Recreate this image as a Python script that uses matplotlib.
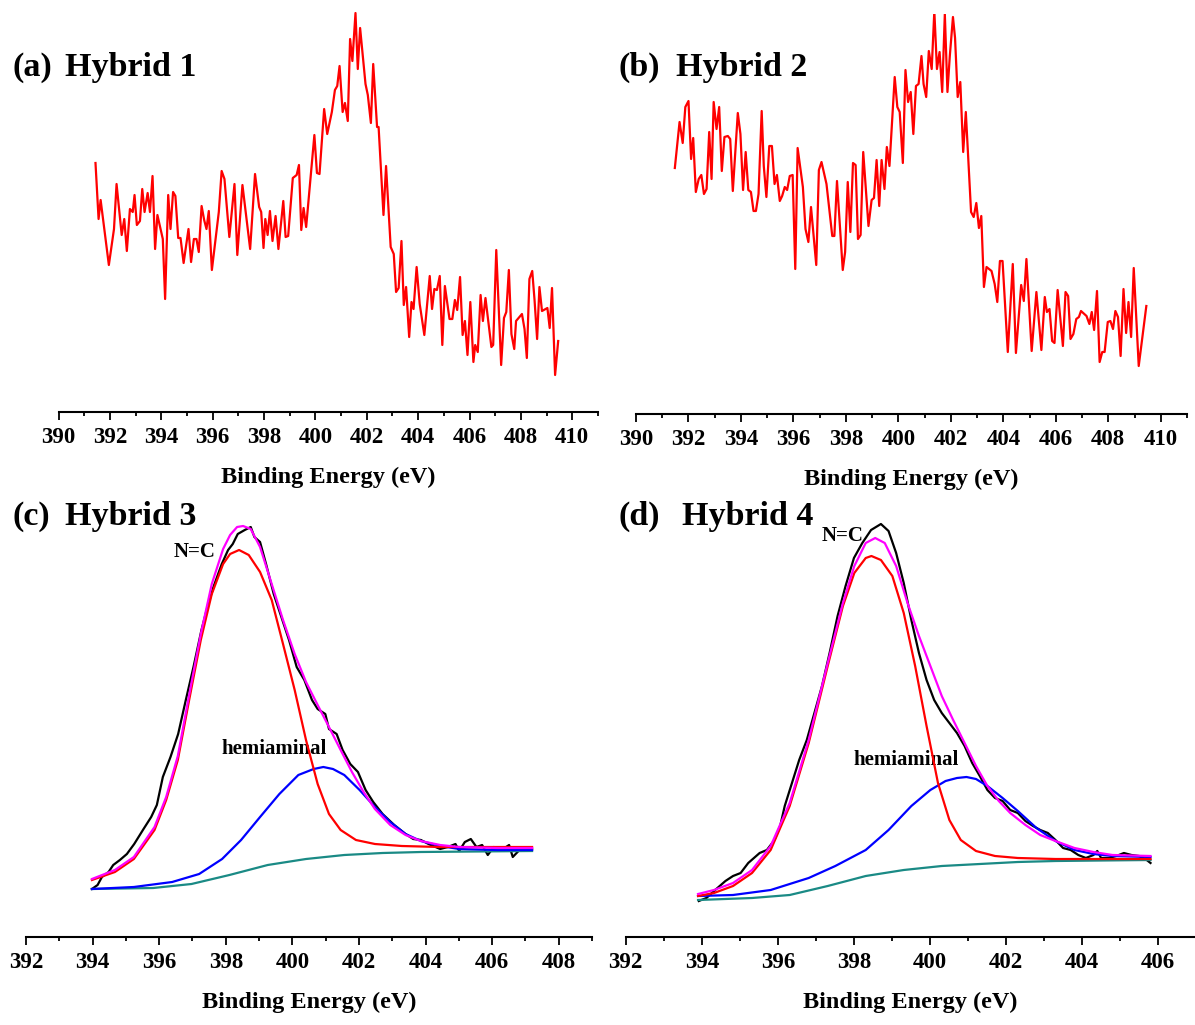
import matplotlib
matplotlib.use("Agg")
import matplotlib.pyplot as plt
from matplotlib.ticker import MultipleLocator

plt.rcParams['font.family'] = ['Liberation Serif', 'DejaVu Serif']
plt.rcParams['font.weight'] = 'bold'

# ---------------- data ----------------
# Panel (a) Hybrid 1 : N 1s survey (binding energy eV, intensity a.u.)
h1_be = [391.44, 391.56, 391.64, 391.96, 392.16, 392.26, 392.46, 392.56, 392.66, 392.78,
         392.89, 392.96, 393.05, 393.17, 393.26, 393.35, 393.47, 393.56, 393.66, 393.76,
         393.85, 393.97, 394.06, 394.15, 394.27, 394.36, 394.46, 394.55, 394.66, 394.75,
         394.87, 395.06, 395.16, 395.27, 395.37, 395.46, 395.57, 395.67, 395.76, 395.85,
         395.97, 396.24, 396.35, 396.46, 396.65, 396.85, 396.96, 397.16, 397.46, 397.65,
         397.81, 397.89, 397.98, 398.05, 398.14, 398.23, 398.33, 398.45, 398.56, 398.75,
         398.84, 398.94, 399.12, 399.27, 399.36, 399.45, 399.54, 399.64, 399.96, 400.06,
         400.16, 400.34, 400.46, 400.64, 400.76, 400.85, 400.94, 401.06, 401.15, 401.26,
         401.35, 401.44, 401.56, 401.65, 401.74, 401.95, 402.04, 402.16, 402.25, 402.40,
         402.46, 402.65, 402.75, 402.93, 403.05, 403.14, 403.24, 403.35, 403.44, 403.53,
         403.65, 403.74, 403.82, 403.94, 404.06, 404.24, 404.45, 404.54, 404.63, 404.73,
         404.84, 404.94, 405.04, 405.22, 405.33, 405.43, 405.52, 405.63, 405.73, 405.82,
         405.92, 406.03, 406.15, 406.22, 406.32, 406.43, 406.52, 406.62, 406.85, 406.92,
         407.04, 407.23, 407.34, 407.43, 407.53, 407.63, 407.74, 407.81, 408.04, 408.14,
         408.23, 408.33, 408.44, 408.53, 408.63, 408.72, 408.82, 409.03, 409.12, 409.21,
         409.33, 409.45]
h1_int = [249, 193, 212, 147, 183, 228, 177, 193, 161, 203,
          200, 217, 187, 191, 223, 200, 219, 200, 236, 163,
          197, 183, 173, 113, 217, 183, 220, 216, 174, 174,
          149, 183, 150, 173, 173, 160, 206, 192, 183, 201,
          142, 200, 241, 233, 175, 228, 157, 227, 163, 238,
          205, 200, 164, 193, 177, 201, 171, 196, 163, 211,
          175, 176, 234, 237, 247, 182, 204, 185, 277, 239,
          238, 303, 278, 300, 322, 326, 346, 300, 309, 291,
          373, 351, 399, 343, 384, 328, 317, 289, 348, 285,
          285, 197, 246, 165, 158, 120, 124, 171, 107, 125,
          75, 110, 103, 145, 108, 77, 136, 103, 123, 122,
          136, 67, 126, 93, 93, 112, 102, 135, 77, 91,
          57, 110, 50, 67, 60, 117, 91, 114, 65, 67,
          162, 47, 94, 100, 142, 78, 63, 91, 98, 83,
          54, 133, 141, 112, 73, 125, 101, 104, 84, 124,
          37, 71]

# Panel (b) Hybrid 2
h2_be = [391.48, 391.66, 391.78, 391.88, 392.00, 392.10, 392.18, 392.28, 392.39, 392.49,
         392.59, 392.69, 392.79, 392.88, 392.96, 393.07, 393.17, 393.27, 393.37, 393.50,
         393.59, 393.69, 393.88, 393.98, 394.08, 394.18, 394.28, 394.38, 394.48, 394.57,
         394.67, 394.79, 394.87, 394.97, 395.08, 395.18, 395.28, 395.37, 395.48, 395.57,
         395.67, 395.76, 395.86, 395.97, 396.07, 396.16, 396.36, 396.46, 396.57, 396.67,
         396.87, 396.97, 397.07, 397.26, 397.48, 397.56, 397.66, 397.88, 397.97, 398.07,
         398.17, 398.27, 398.37, 398.46, 398.56, 398.66, 398.86, 398.98, 399.07, 399.17,
         399.27, 399.36, 399.47, 399.56, 399.66, 399.86, 399.96, 400.05, 400.17, 400.27,
         400.37, 400.47, 400.57, 400.67, 400.77, 400.88, 400.96, 401.06, 401.16, 401.27,
         401.37, 401.47, 401.57, 401.67, 401.77, 401.87, 401.96, 402.08, 402.16, 402.26,
         402.36, 402.47, 402.57, 402.77, 402.87, 402.97, 403.07, 403.16, 403.26, 403.36,
         403.55, 403.67, 403.77, 403.87, 403.97, 404.17, 404.36, 404.48, 404.68, 404.78,
         404.88, 405.08, 405.26, 405.45, 405.58, 405.66, 405.76, 405.86, 405.95, 406.07,
         406.27, 406.37, 406.47, 406.56, 406.67, 406.78, 406.88, 406.96, 407.17, 407.28,
         407.37, 407.46, 407.57, 407.67, 407.77, 407.86, 407.98, 408.08, 408.18, 408.27,
         408.37, 408.47, 408.58, 408.68, 408.77, 408.87, 408.97, 409.16, 409.28, 409.45]
h2_int = [246, 292, 271, 307, 313, 255, 276, 222, 235, 239,
          220, 225, 282, 235, 312, 285, 307, 243, 277, 278,
          275, 223, 301, 280, 224, 262, 224, 222, 203, 203,
          220, 303, 248, 217, 268, 268, 230, 239, 213, 218,
          227, 224, 238, 239, 145, 266, 227, 185, 172, 207,
          149, 244, 252, 230, 178, 178, 233, 144, 162, 232,
          182, 251, 249, 175, 179, 262, 188, 214, 216, 254,
          208, 254, 225, 267, 248, 337, 307, 302, 251, 344,
          312, 322, 280, 328, 330, 358, 330, 317, 363, 345,
          403, 345, 362, 322, 400, 322, 358, 397, 376, 317,
          332, 262, 302, 202, 197, 211, 186, 198, 127, 147,
          143, 130, 112, 153, 153, 62, 150, 61, 129, 113,
          155, 63, 122, 64, 117, 102, 105, 73, 71, 124,
          68, 122, 118, 75, 80, 95, 97, 103, 98, 90,
          102, 84, 123, 52, 62, 62, 92, 93, 85, 103,
          97, 58, 125, 81, 112, 77, 146, 48, 73, 108]

# Panel (c) Hybrid 3 : measured + fitted components
h3_raw_be = [393.98, 394.15, 394.28, 394.48, 394.62, 394.82, 395.03, 395.25, 395.53, 395.76,
             395.93, 396.11, 396.34, 396.57, 396.80, 397.03, 397.27, 397.45, 397.63, 397.88,
             398.07, 398.21, 398.36, 398.57, 398.75, 398.86, 399.03, 399.21, 399.44, 399.67,
             399.90, 400.13, 400.36, 400.59, 400.76, 400.99, 401.10, 401.33, 401.51, 401.74,
             401.97, 402.20, 402.43, 402.71, 403.06, 403.40, 403.63, 403.86, 404.09, 404.44,
             404.67, 404.90, 405.01, 405.18, 405.36, 405.53, 405.70, 405.87, 406.05, 406.28,
             406.51, 406.62, 406.85, 407.20]
h3_raw = [48, 52, 60, 65, 72, 77, 83, 93, 108, 120,
          132, 160, 180, 203, 237, 270, 307, 330, 350, 373,
          387, 393, 403, 407, 410, 400, 395, 373, 343, 320,
          297, 270, 257, 237, 228, 223, 208, 203, 187, 173,
          165, 147, 135, 123, 112, 103, 98, 97, 93, 88,
          90, 93, 86, 95, 98, 90, 92, 82, 90, 87,
          92, 80, 88, 88]
h3_nc_be = [393.98, 394.67, 395.24, 395.86, 396.21, 396.56, 396.90, 397.25, 397.58, 397.92,
            398.13, 398.40, 398.69, 399.03, 399.38, 399.72, 400.07, 400.41, 400.76, 401.10,
            401.45, 401.91, 402.48, 403.29, 404.44, 407.20]
h3_nc = [57, 65, 78, 107, 137, 177, 237, 297, 343, 373,
         383, 387, 382, 365, 337, 293, 247, 197, 153, 123,
         107, 97, 93, 91, 90, 90]
h3_hemi_be = [393.98, 395.24, 396.39, 397.20, 397.89, 398.46, 399.03, 399.61, 400.18, 400.64,
              400.93, 401.22, 401.56, 402.02, 402.48, 402.94, 403.40, 403.86, 404.44, 405.01,
              406.16, 407.20]
h3_hemi = [48, 50, 55, 63, 78, 97, 120, 143, 162, 168,
           170, 168, 162, 147, 130, 115, 103, 96, 91, 88,
           87, 87]
h3_env_be = [393.98, 394.67, 395.24, 395.86, 396.21, 396.56, 396.90, 397.25, 397.58, 397.92,
             398.13, 398.34, 398.52, 398.75, 399.03, 399.38, 399.72, 400.07, 400.41, 400.76,
             401.10, 401.45, 401.79, 402.14, 402.48, 402.94, 403.40, 403.86, 404.44, 405.01,
             406.16, 407.20]
h3_env = [58, 67, 80, 110, 140, 181, 242, 303, 353, 388,
          402, 410, 411, 408, 390, 353, 317, 283, 255, 232,
          210, 187, 165, 145, 128, 112, 102, 96, 92, 90,
          89, 89]
h3_bg_be = [393.98, 395.82, 396.97, 398.11, 399.26, 400.41, 401.56, 402.71, 403.86, 407.20]
h3_bg = [48, 49, 53, 62, 72, 78, 82, 84, 85, 86]

# Panel (d) Hybrid 4
h4_raw_be = [393.92, 394.12, 394.32, 394.47, 394.62, 394.82, 395.02, 395.22, 395.37, 395.52,
             395.71, 395.91, 396.06, 396.18, 396.37, 396.56, 396.76, 396.96, 397.16, 397.36,
             397.57, 397.78, 398.00, 398.22, 398.45, 398.71, 398.91, 399.11, 399.31, 399.51,
             399.71, 399.91, 400.11, 400.31, 400.51, 400.71, 400.91, 401.11, 401.31, 401.51,
             401.71, 401.91, 402.11, 402.31, 402.51, 402.71, 402.90, 403.10, 403.30, 403.50,
             403.70, 403.90, 404.10, 404.30, 404.40, 404.50, 404.70, 404.90, 405.10, 405.30,
             405.50, 405.70, 405.80]
h4_raw = [36, 39, 46, 51, 56, 61, 64, 74, 79, 84,
          87, 97, 111, 131, 154, 177, 197, 224, 251, 284,
          321, 351, 379, 394, 407, 413, 406, 384, 354, 317,
          284, 257, 237, 224, 214, 204, 191, 174, 161, 147,
          139, 136, 127, 124, 116, 111, 107, 104, 97, 89,
          87, 82, 79, 82, 86, 79, 79, 81, 84, 82,
          81, 77, 74]
h4_nc_be = [393.90, 394.32, 394.82, 395.32, 395.81, 396.31, 396.81, 397.31, 397.71, 398.01,
            398.31, 398.46, 398.71, 399.01, 399.31, 399.61, 399.91, 400.21, 400.51, 400.81,
            401.21, 401.71, 402.31, 403.30, 405.80]
h4_nc = [41, 44, 51, 64, 87, 131, 194, 271, 331, 364,
         379, 381, 377, 361, 324, 271, 211, 154, 117, 97,
         86, 81, 79, 78, 78]
h4_hemi_be = [393.90, 394.82, 395.81, 396.81, 397.51, 398.31, 398.91, 399.51, 400.01, 400.41,
              400.71, 400.96, 401.21, 401.51, 401.91, 402.31, 402.80, 403.30, 403.80, 404.30,
              404.80, 405.80]
h4_hemi = [41, 42, 47, 59, 71, 87, 107, 131, 147, 156,
           159, 160, 158, 151, 139, 126, 109, 96, 87, 83,
           81, 80]
h4_env_be = [393.90, 394.32, 394.82, 395.32, 395.81, 396.31, 396.81, 397.31, 397.71, 398.01,
             398.31, 398.56, 398.81, 399.11, 399.41, 399.71, 400.01, 400.31, 400.61, 400.91,
             401.21, 401.51, 401.81, 402.11, 402.51, 402.90, 403.30, 403.80, 404.30, 404.80,
             405.80]
h4_env = [43, 47, 54, 67, 91, 134, 197, 274, 334, 371,
          394, 399, 394, 371, 334, 301, 271, 241, 217, 194,
          171, 151, 136, 124, 112, 102, 96, 89, 85, 82,
          81]
h4_bg_be = [393.90, 395.32, 396.31, 397.31, 398.31, 399.31, 400.31, 401.31, 402.31, 403.30, 405.80]
h4_bg = [37, 39, 42, 51, 61, 67, 71, 73, 75, 76, 77]

panel_tags = ["(a)", "(b)", "(c)", "(d)"]
panel_names = ["Hybrid 1", "Hybrid 2", "Hybrid 3", "Hybrid 4"]
xlabel = "Binding Energy (eV)"

# ---------------- figure ----------------
W, H = 1195, 1025
fig = plt.figure(figsize=(W / 100, H / 100), dpi=100)


def make_axes(left, right, bottom_y, height, xlim, ylim):
    ax = fig.add_axes([left / W, (H - bottom_y) / H, (right - left) / W, height / H])
    ax.set_xlim(*xlim)
    ax.set_ylim(*ylim)
    for s in ("left", "right", "top"):
        ax.spines[s].set_visible(False)
    ax.spines["bottom"].set_linewidth(1.5)
    ax.yaxis.set_visible(False)
    ax.xaxis.set_major_locator(MultipleLocator(2))
    ax.xaxis.set_minor_locator(MultipleLocator(1))
    ax.tick_params(axis="x", which="major", direction="out", length=5.5, width=1.3,
                   labelsize=16.5, pad=5.5)
    ax.tick_params(axis="x", which="minor", direction="out", length=3, width=1.3)
    for lab in ax.get_xticklabels():
        lab.set_fontweight("bold")
    ax.set_xlabel(xlabel, fontsize=17.5, fontweight="bold", labelpad=13)
    ax.patch.set_alpha(0)
    return ax


ax_a = make_axes(58.5, 598, 412, 400, (390, 411), (0, 400))
ax_b = make_axes(636, 1187, 414, 400, (390, 411), (0, 400))
ax_c = make_axes(26, 592, 937, 420, (392, 409), (0, 420))
ax_d = make_axes(625.8, 1195, 937, 420, (392, 406.97), (0, 420))

red = "#ff0000"
blue = "#0000ff"
mag = "#ff00ff"
teal = "#1a8a85"

ax_a.plot(h1_be, h1_int, color=red, lw=1.6)
ax_b.plot(h2_be, h2_int, color=red, lw=1.6)

for ax, rb, r, nb, n, hb, hm, eb, e, bb, bg in [
        (ax_c, h3_raw_be, h3_raw, h3_nc_be, h3_nc, h3_hemi_be, h3_hemi, h3_env_be, h3_env, h3_bg_be, h3_bg),
        (ax_d, h4_raw_be, h4_raw, h4_nc_be, h4_nc, h4_hemi_be, h4_hemi, h4_env_be, h4_env, h4_bg_be, h4_bg)]:
    ax.plot(rb, r, color="black", lw=1.6, zorder=2)
    ax.plot(bb, bg, color=teal, lw=1.6, zorder=3)
    ax.plot(hb, hm, color=blue, lw=1.6, zorder=4)
    ax.plot(nb, n, color=red, lw=1.6, zorder=5)
    ax.plot(eb, e, color=mag, lw=1.6, zorder=6)

ax_c.text(397.05, 385, "N=C", fontsize=15, fontweight="bold", ha="center", va="center")
ax_c.text(399.46, 188, "hemiaminal", fontsize=15, fontweight="bold", ha="center", va="center")
ax_d.text(397.69, 401, "N=C", fontsize=15, fontweight="bold", ha="center", va="center")
ax_d.text(399.37, 177, "hemiaminal", fontsize=15, fontweight="bold", ha="center", va="center")

tag_x = [12, 618, 12, 618]
name_x = [65, 676, 65, 682]
base_y = [76, 76, 525, 525]
for tag, name, tx, nx, by in zip(panel_tags, panel_names, tag_x, name_x, base_y):
    fig.text(tx / W, 1 - by / H, tag, fontsize=24.5, fontweight="bold", ha="left", va="baseline")
    fig.text(nx / W, 1 - by / H, name, fontsize=24.5, fontweight="bold", ha="left", va="baseline")

fig.savefig("out.png", dpi=100)
